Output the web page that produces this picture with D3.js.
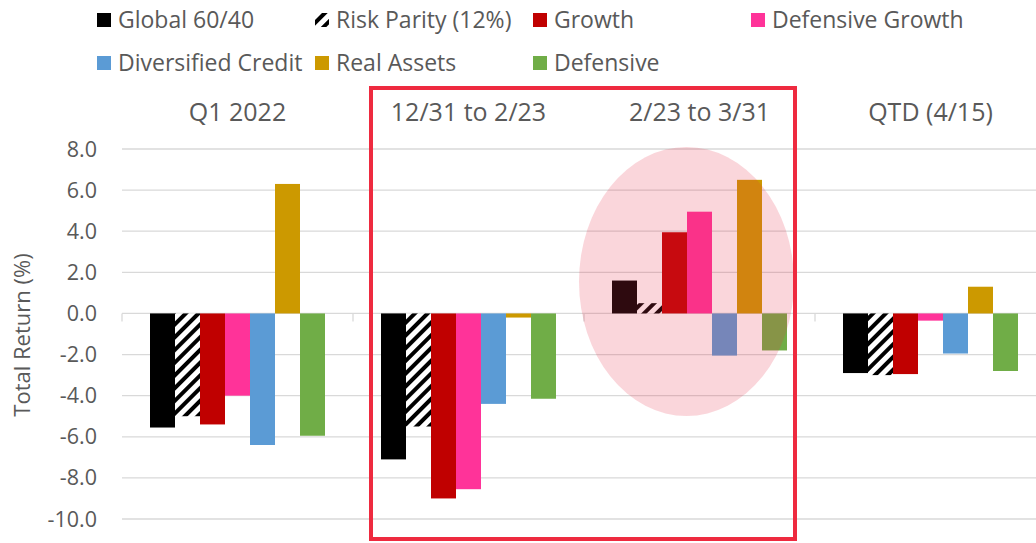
<!DOCTYPE html>
<html><head><meta charset="utf-8">
<script src="https://cdn.jsdelivr.net/npm/d3@7"></script>
<style>body{margin:0;background:#fff;} svg{display:block;font-family:"Open Sans",sans-serif;}</style>
</head><body>
<svg id="c" width="1036" height="543"></svg>
<script>
const categories = ["Q1 2022", "12/31 to 2/23", "2/23 to 3/31", "QTD (4/15)"];
const seriesNames = ["Global 60/40", "Risk Parity (12%)", "Growth", "Defensive Growth", "Diversified Credit", "Real Assets", "Defensive"];
const seriesColors = ["#000000", "hatch", "#c00000", "#ff3399", "#5b9bd5", "#cc9900", "#70ad47"];
const global6040 = [-5.55, -7.1, 1.6, -2.9];
const riskParity = [-5.0, -5.5, 0.5, -3.0];
const growth = [-5.4, -9.0, 3.95, -2.95];
const defensiveGrowth = [-4.0, -8.55, 4.95, -0.35];
const diversifiedCredit = [-6.4, -4.4, -2.05, -1.95];
const realAssets = [6.3, -0.2, 6.5, 1.3];
const defensive = [-5.95, -4.15, -1.8, -2.8];
const yTicks = [8, 6, 4, 2, 0, -2, -4, -6, -8, -10];
const seriesValues = [global6040, riskParity, growth, defensiveGrowth, diversifiedCredit, realAssets, defensive];

const svg = d3.select("#c");
const txt = "#595959";
const defs = svg.append("defs");
const pat = defs.append("pattern").attr("id","hatch").attr("patternUnits","userSpaceOnUse")
  .attr("width",9).attr("height",9).attr("patternTransform","rotate(45)");
pat.append("rect").attr("width",9).attr("height",9).attr("fill","#fff");
pat.append("rect").attr("x",0).attr("width",4).attr("height",9).attr("fill","#000");
const fillOf = c => c === "hatch" ? "url(#hatch)" : c;

const x = d3.scaleBand().domain(categories).range([122, 1046]).padding(0);
const xi = d3.scaleBand().domain(d3.range(seriesNames.length)).range([0, x.bandwidth()]).paddingInner(0).paddingOuter(1.12);
const y = d3.scaleLinear().domain([-10, 8]).range([519, 149]);

// gridlines
svg.append("g").selectAll("line").data(yTicks).join("line")
  .attr("x1", 122).attr("x2", 1046).attr("y1", d => y(d)).attr("y2", d => y(d))
  .attr("stroke", "#d9d9d9").attr("stroke-width", 1.3);
// category ticks on zero line
svg.append("g").selectAll("line").data(categories.concat(["end"])).join("line")
  .attr("x1", (d,i) => 122 + i * x.step()).attr("x2", (d,i) => 122 + i * x.step())
  .attr("y1", y(0)).attr("y2", y(0) + 8).attr("stroke", "#d9d9d9").attr("stroke-width", 1.3);

// y labels
svg.append("g").selectAll("text").data(yTicks).join("text")
  .attr("x", 97).attr("y", d => y(d)).attr("dy", "0.35em").attr("text-anchor", "end")
  .attr("fill", txt).style("font-size", "21.5px").text(d => d3.format(".1f")(d).replace("−","-"));
svg.append("text").attr("transform", "translate(30,335) rotate(-90)").attr("text-anchor", "middle")
  .attr("fill", txt).style("font-size", "22px").text("Total Return (%)");

// category labels
svg.append("g").selectAll("text").data(categories).join("text")
  .attr("x", d => x(d) + x.bandwidth() / 2).attr("y", 112).attr("dy", "0.35em").attr("text-anchor", "middle")
  .attr("fill", txt).style("font-size", "25px").text(d => d);

// bars
const bars = [];
seriesValues.forEach((vals, s) => vals.forEach((v, c) => bars.push({s, c, v})));
svg.append("g").selectAll("rect").data(bars).join("rect")
  .attr("x", d => x(categories[d.c]) + xi(d.s)).attr("width", xi.bandwidth())
  .attr("y", d => y(Math.max(0, d.v))).attr("height", d => Math.abs(y(d.v) - y(0)))
  .attr("fill", d => fillOf(seriesColors[d.s]));

// highlight ellipse
svg.append("ellipse").attr("cx", 686.5).attr("cy", 281.5).attr("rx", 107.5).attr("ry", 134.5)
  .attr("fill", "rgb(232,48,74)").attr("fill-opacity", 0.2);

// red box
svg.append("rect").attr("x", 371).attr("y", 88).attr("width", 424).attr("height", 451)
  .attr("fill", "none").attr("stroke", "#ee2a3f").attr("stroke-width", 4);

// legend
const legPos = [[97,20],[315,20],[533,20],[751,20],[97,63],[315,63],[533,63]];
const leg = svg.append("g").selectAll("g").data(seriesNames).join("g")
  .attr("transform", (d,i) => `translate(${legPos[i][0]},${legPos[i][1]})`);
leg.append("rect").attr("x", 0).attr("y", -7).attr("width", 14).attr("height", 14)
  .attr("fill", (d,i) => fillOf(seriesColors[i]));
leg.append("text").attr("x", 21).attr("y", 0).attr("dy", "0.35em").attr("fill", txt)
  .style("font-size", "23px").text(d => d);
</script>
</body></html>
